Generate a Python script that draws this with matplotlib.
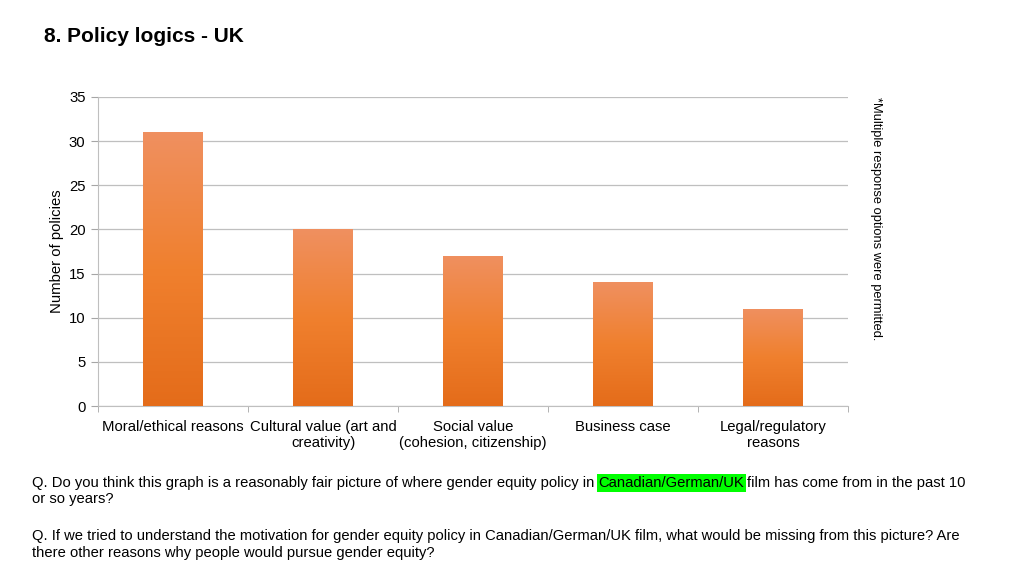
import numpy as np
import matplotlib.pyplot as plt
from matplotlib.colors import LinearSegmentedColormap

plt.rcParams['font.family'] = ['Liberation Sans', 'DejaVu Sans']

# data
categories = ["Moral/ethical reasons", "Cultural value (art and\ncreativity)",
              "Social value\n(cohesion, citizenship)", "Business case",
              "Legal/regulatory\nreasons"]
counts = [31, 20, 17, 14, 11]
yticks = [0, 5, 10, 15, 20, 25, 30, 35]

fig = plt.figure(figsize=(10.24, 5.76), dpi=100)
ax = fig.add_axes([98/1024, 1-406/576, 750/1024, 309/576])

x = np.arange(len(categories))
bars = ax.bar(x, counts, width=0.4, color='#EC7A2C', zorder=2)

# vertical gradient in each bar (light at top, darker at bottom)
cmap = LinearSegmentedColormap.from_list('orng', ['#E46C1A', '#F0802E', '#EF9060'])
grad = np.linspace(0, 1, 256).reshape(-1, 1)
for b in bars:
    x0, y0 = b.get_x(), b.get_y()
    w, h = b.get_width(), b.get_height()
    im = ax.imshow(grad, cmap=cmap, origin='lower', aspect='auto',
                   extent=[x0, x0 + w, y0, y0 + h], zorder=3,
                   interpolation='bilinear')
    im.set_clip_path(b)

ax.set_xlim(-0.5, len(categories) - 0.5)
ax.set_ylim(0, 35)
ax.set_yticks(yticks)
ax.set_yticklabels([str(v) for v in yticks], fontsize=10.7)
ax.set_xticks(x)
ax.set_xticklabels(categories, fontsize=10.7, linespacing=1.2)
ax.tick_params(axis='x', length=0, pad=10)
ax.set_xticks(np.arange(len(categories) + 1) - 0.5, minor=True)
ax.tick_params(axis='x', which='minor', length=4, color='#A6A6A6')
ax.tick_params(axis='y', length=5, color='#A6A6A6', pad=4)
ax.grid(axis='y', color='#BFBFBF', linewidth=0.9, zorder=0)
for side in ['top', 'right']:
    ax.spines[side].set_visible(False)
for side in ['left', 'bottom']:
    ax.spines[side].set_color('#BFBFBF')
ax.set_ylabel("Number of policies", fontsize=10.7)
ax.yaxis.set_label_coords(-0.046, 0.5)

# side note
fig.text(876/1024, 1-97/576, "*Multiple response options were permitted.",
         rotation=270, fontsize=9.3, ha='center', va='top')

# title
fig.text(44/1024, 1-36/576, "8. Policy logics - UK", fontsize=15,
         fontweight='bold', va='center')

# questions below
fs = 10.65
renderer = fig.canvas.get_renderer()
y1 = 1-487/576
t1 = fig.text(32/1024, y1, "Q. Do you think this graph is a reasonably fair picture of "
              "where gender equity policy in ", fontsize=fs, va='baseline')
bb = t1.get_window_extent(renderer).transformed(fig.transFigure.inverted())
t2 = fig.text(bb.x1, y1, "Canadian/German/UK", fontsize=fs, va='baseline',
              bbox=dict(facecolor='#00FF00', edgecolor='none', pad=1.2))
bb2 = t2.get_window_extent(renderer).transformed(fig.transFigure.inverted())
fig.text(bb2.x1 + 3/1024, y1, "film has come from in the past 10", fontsize=fs, va='baseline')
fig.text(32/1024, 1-503/576, "or so years?", fontsize=fs, va='baseline')
fig.text(32/1024, 1-540/576, "Q. If we tried to understand the motivation for gender equity "
         "policy in Canadian/German/UK film, what would be missing from this picture? Are",
         fontsize=fs, va='baseline')
fig.text(32/1024, 1-557/576, "there other reasons why people would pursue gender equity?",
         fontsize=fs, va='baseline')

fig.savefig("out.png", dpi=100)
